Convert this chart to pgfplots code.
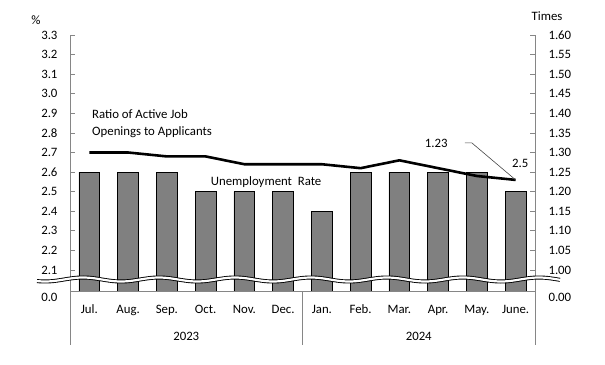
\documentclass[border=0pt]{standalone}
\usepackage{fontspec}
\setmainfont{Carlito}
\usepackage{pgfplots}
\pgfplotsset{compat=1.18}
\definecolor{axgray}{RGB}{134,134,134}
\definecolor{bargray}{RGB}{128,128,128}
\definecolor{leadgray}{RGB}{70,70,70}

\begin{document}
\begin{tikzpicture}[font=\fontsize{12.8bp}{15bp}\selectfont]
\pgfplotsset{
  common/.style={
    scale only axis, width=465bp, height=256bp,
    xmin=-0.5, xmax=11.5,
    clip mode=individual,
    axis line style={axgray, line width=0.8bp, -},
    tick align=inside, major tick length=5bp,
    every tick/.style={axgray, line width=0.8bp},
  }
}
% ---------------- left axis: unemployment rate (bars)
\begin{axis}[common,
  ymin=1.99275, ymax=3.3,
  axis y line*=left, axis x line*=bottom,
  xtick={0,1,2,3,4,5,6,7,8,9,10,11},
  xticklabels={Jul.,Aug.,Sep.,Oct.,Nov.,Dec.,Jan.,Feb.,Mar.,Apr.,May.,June.},
  x tick style={draw=none},
  xticklabel style={anchor=base, yshift=-17bp},
  ytick={2.1,2.2,2.3,2.4,2.5,2.6,2.7,2.8,2.9,3.0,3.1,3.2,3.3},
  yticklabel style={/pgf/number format/.cd, fixed, fixed zerofill, precision=1, assume math mode=true, /tikz/.cd, xshift=-9bp},
  extra y ticks={1.99275}, extra y tick labels={0.0},
  extra y tick style={major tick length=0pt, yticklabel style={yshift=-6bp}},
  ybar, bar width=0.54,
]
\addplot[ybar, fill=bargray, draw=black, line width=0.8bp] coordinates {
  (0,2.6) (1,2.6) (2,2.6) (3,2.5) (4,2.5) (5,2.5)
  (6,2.4) (7,2.6) (8,2.6) (9,2.6) (10,2.6) (11,2.5)};
\coordinate (SW) at (rel axis cs:0,0);
\coordinate (NW) at (rel axis cs:0,1);
\coordinate (NE) at (rel axis cs:1,1);
\coordinate (SM) at (rel axis cs:0.5,0);
\coordinate (SE) at (rel axis cs:1,0);
\node[anchor=west, align=left, inner sep=0pt, font=\fontsize{12.8bp}{17bp}\selectfont] at (axis cs:0.068,2.848) {Ratio of Active Job\\Openings to Applicants};
\node[inner sep=0pt] at (axis cs:4.56,2.55) {Unemployment\ \ Rate};
\node[inner sep=0pt] at (axis cs:11.12,2.642) {2.5};
\node[inner sep=0pt] at (axis cs:2.5,1.99275) [yshift=-45bp] {2023};
\node[inner sep=0pt] at (axis cs:8.5,1.99275) [yshift=-45bp] {2024};
\end{axis}
% ---------------- right axis: ratio (line)
\begin{axis}[common,
  ymin=0.94637, ymax=1.6,
  axis y line*=right, axis x line=none,
  ytick={1.00,1.05,1.10,1.15,1.20,1.25,1.30,1.35,1.40,1.45,1.50,1.55,1.60},
  yticklabel style={/pgf/number format/.cd, fixed, fixed zerofill, precision=2, assume math mode=true, /tikz/.cd, xshift=10bp},
  extra y ticks={0.94637}, extra y tick labels={0.00},
  extra y tick style={major tick length=0pt, yticklabel style={yshift=-6bp}},
]
\addplot[black, line width=2.6bp, mark=none] coordinates {
  (0,1.30) (1,1.30) (2,1.29) (3,1.29) (4,1.27) (5,1.27)
  (6,1.27) (7,1.26) (8,1.28) (9,1.26) (10,1.24) (11,1.23)};
\draw[leadgray, line width=0.6bp] (axis cs:9.69,1.3245) -- (axis cs:9.87,1.3245) -- (axis cs:11,1.23);
\node[inner sep=0pt] at (axis cs:8.95,1.3245) {1.23};
\end{axis}
% separators and axis titles
\draw[axgray, line width=0.8bp] (SW) -- ++(0,-54bp);
\draw[axgray, line width=0.8bp] (SM) -- ++(0,-54bp);
\draw[axgray, line width=0.8bp] (SE) -- ++(0,-54bp);
\node[inner sep=0pt] at ([shift={(-34bp,15bp)}]NW) {\%};
\node[inner sep=0pt] at ([shift={(12bp,19bp)}]NE) {Times};
% axis break mark
\begin{scope}[shift={(SW)}]
\draw[black, line width=4bp] plot[domain=-33:490, samples=160, smooth] ({\x*1bp},{(11.5+2*cos(4.736842*(\x-13)))*1bp});
\draw[white, line width=2.2bp] plot[domain=-34:491, samples=160, smooth] ({\x*1bp},{(11.5+2*cos(4.736842*(\x-13)))*1bp});
\end{scope}
\pgfresetboundingbox
\path[use as bounding box] ([shift={(-70bp,-74bp)}]SW) rectangle ([shift={(535bp,291bp)}]SW);
\end{tikzpicture}
\end{document}
